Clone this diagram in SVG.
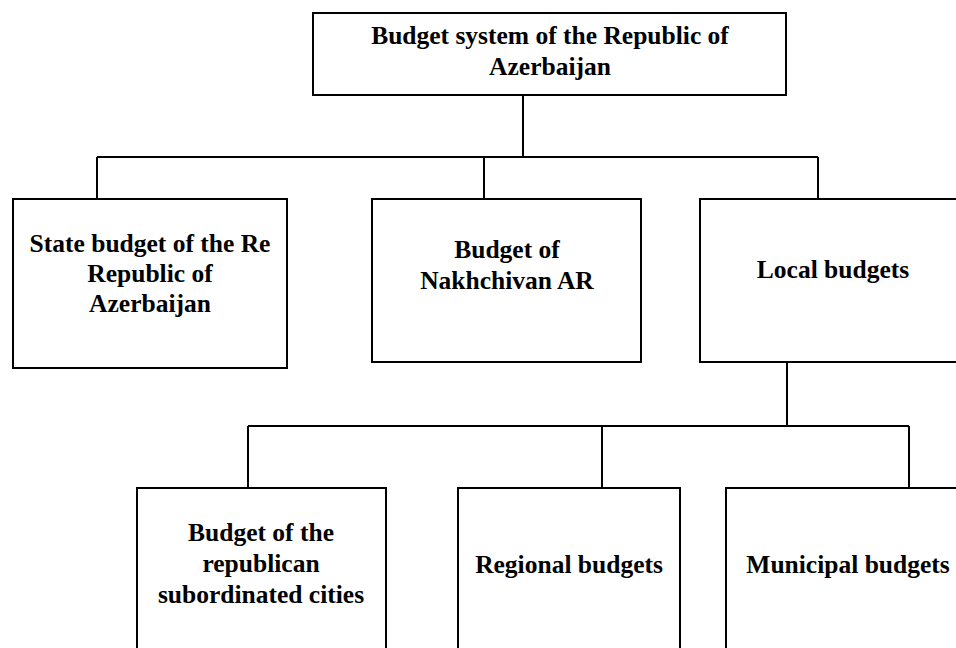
<svg xmlns="http://www.w3.org/2000/svg" width="956" height="648" viewBox="0 0 956 648">
<style>
.box{fill:#fff;stroke:#000;stroke-width:2}
.ln{fill:none;stroke:#000;stroke-width:2}
text{font-family:"Liberation Serif","Times New Roman",serif;font-weight:bold;font-size:25.5px;text-anchor:middle;fill:#000}
</style>
<rect width="956" height="648" fill="#fff"/>
<g id="connectors">
<path class="ln" d="M523 95V157M97 157H818M97 157V199M484 157V199M818 157V199"/>
<path class="ln" d="M787 362V426M248 426H909M248 426V488M602 426V488M909 426V488"/>
</g>
<g id="root"><rect class="box" x="313" y="13" width="473" height="82"/>
<text x="550" y="44">Budget system of the Republic of</text><text x="550" y="75">Azerbaijan</text></g>
<g id="state"><rect class="box" x="13" y="199" width="274" height="169"/>
<text x="150" y="252">State budget of the Re</text><text x="150" y="282">Republic of</text><text x="150" y="312">Azerbaijan</text></g>
<g id="nakhchivan"><rect class="box" x="372" y="199" width="269" height="163"/>
<text x="507" y="258">Budget of</text><text x="507" y="289">Nakhchivan AR</text></g>
<g id="local"><rect class="box" x="700" y="199" width="270" height="163"/>
<text x="833" y="278">Local budgets</text></g>
<g id="cities"><rect class="box" x="137" y="488" width="249" height="170"/>
<text x="261" y="541">Budget of the</text><text x="261" y="572">republican</text><text x="261" y="603">subordinated cities</text></g>
<g id="regional"><rect class="box" x="458" y="488" width="222" height="170"/>
<text x="569" y="573">Regional budgets</text></g>
<g id="municipal"><rect class="box" x="726" y="488" width="244" height="170"/>
<text x="848" y="573">Municipal budgets</text></g>
</svg>
